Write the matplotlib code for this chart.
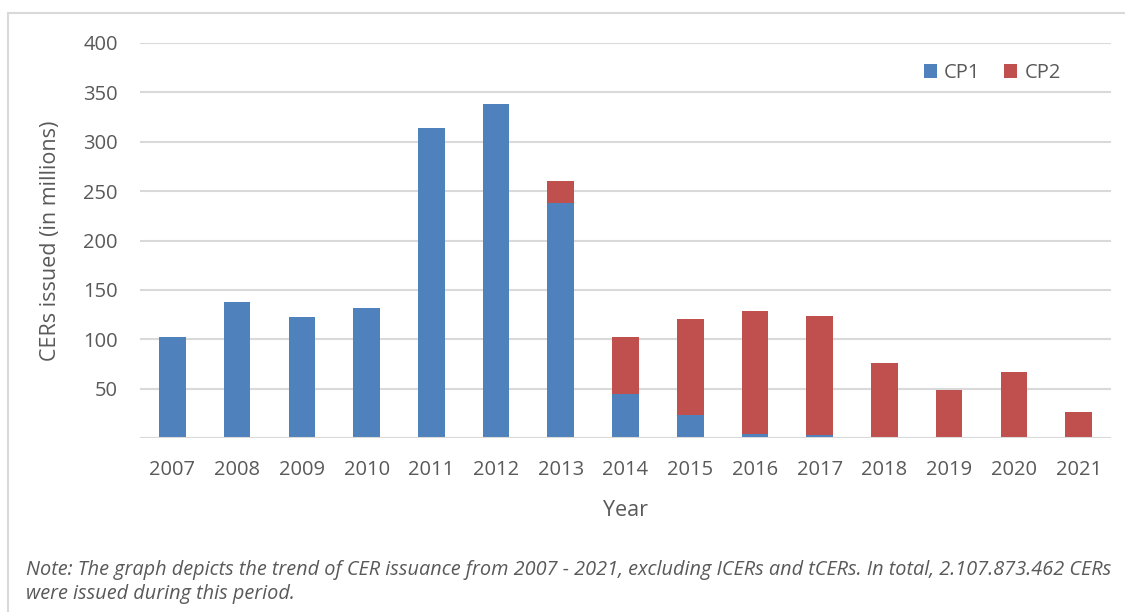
import matplotlib
matplotlib.use("Agg")
import matplotlib.pyplot as plt
from matplotlib.patches import Rectangle
import numpy as np

years = ["2007", "2008", "2009", "2010", "2011", "2012", "2013", "2014",
         "2015", "2016", "2017", "2018", "2019", "2020", "2021"]
cp1 = [102, 138, 122.5, 131.5, 314, 338, 238, 44.5, 23.5, 4.5, 2.7, 0, 0, 0, 0]
cp2 = [0, 0, 0, 0, 0, 0, 22, 58, 97, 124.5, 121, 75.5, 48.5, 66.5, 26]
yticks = [50, 100, 150, 200, 250, 300, 350, 400]
note = ("Note: The graph depicts the trend of CER issuance from 2007 - 2021, excluding ICERs and tCERs. "
        "In total, 2.107.873.462 CERs\nwere issued during this period.")

blue = "#4F81BD"
red = "#C0504D"
txt = "#595959"
grid = "#D9D9D9"
font = ["Open Sans", "DejaVu Sans"]

fig = plt.figure(figsize=(11.25, 6.12), dpi=100)
fig.patches.append(Rectangle((8 / 1125, -0.1), 1.2, 1 - 13 / 612 + 0.1,
                             transform=fig.transFigure, fill=False,
                             edgecolor="#D9D9D9", linewidth=1.5))
ax = fig.add_axes([140 / 1125, 1 - 438 / 612, (1111 - 140) / 1125, (438 - 43) / 612])

x = np.arange(len(years))
ax.bar(x, cp1, width=0.41, color=blue, label="CP1", zorder=3, linewidth=0)
ax.bar(x, cp2, width=0.41, bottom=cp1, color=red, label="CP2", zorder=3, linewidth=0)

ax.set_xlim(-0.5, len(years) - 0.5)
ax.set_ylim(0, 400)
ax.set_yticks(yticks)
ax.set_xticks(x)
ax.set_xticklabels(years)
ax.yaxis.grid(True, color=grid, linewidth=1.5, zorder=0)
ax.axhline(0, color=grid, linewidth=1.5, zorder=4)
for s in ax.spines.values():
    s.set_visible(False)
ax.tick_params(axis="both", length=0, labelsize=14.5, labelcolor=txt)
ax.tick_params(axis="y", pad=16)
ax.tick_params(axis="x", pad=16)
for lab in ax.get_xticklabels() + ax.get_yticklabels():
    lab.set_family(font)

ax.set_xlabel("Year", fontsize=15.5, color=txt, family=font, labelpad=14)
ax.set_ylabel("CERs issued (in millions)", fontsize=15.5, color=txt, family=font, labelpad=16)

leg = ax.legend(loc="upper right", bbox_to_anchor=(0.967, 0.995), ncol=2, frameon=False,
                prop={"family": font, "size": 14.5}, handlelength=0.65, handleheight=0.65,
                handletextpad=0.35, columnspacing=1.2)
for t in leg.get_texts():
    t.set_color(txt)

fig.text(26 / 1125, 1 - 582 / 612, note, fontsize=14.3, style="italic", color=txt,
         family=font, va="center", linespacing=1.25)

fig.savefig("out.png", dpi=100)
